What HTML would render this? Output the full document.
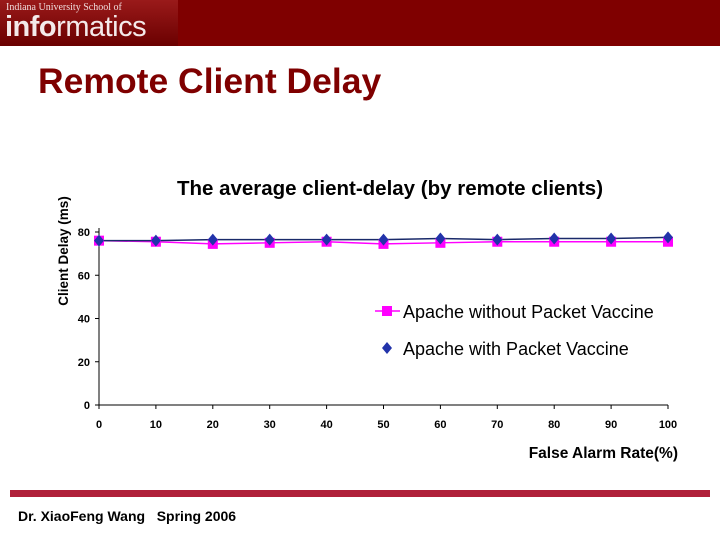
<!DOCTYPE html>
<html><head><meta charset="utf-8"><style>
body{margin:0;width:720px;height:540px;background:#fff;overflow:hidden;position:relative;font-family:"Liberation Sans",sans-serif}
</style></head><body>
<div style="position:absolute;left:0;top:0;width:720px;height:46px;background:#7f0000"></div>
<div style="position:absolute;left:0;top:0;width:178px;height:46px;background:linear-gradient(#9a1a1a,#6a0000)">
<div style="position:absolute;left:6px;top:2px;font-family:'Liberation Serif',serif;font-size:10px;color:#f0dcdc">Indiana University School of</div>
<div style="position:absolute;left:5px;top:12px;font-size:29px;color:#f4eaea;letter-spacing:-0.5px;line-height:30px"><b>info</b>rmatics</div>
</div>
<div style="position:absolute;left:38px;top:61px;font-size:35.5px;font-weight:bold;color:#7f0000">Remote Client Delay</div>
<svg width="720" height="540" style="position:absolute;left:0;top:0" id="ch">
<text x="390" y="195" text-anchor="middle" font-size="20.5" font-weight="bold" fill="#000" font-family="Liberation Sans">The average client-delay (by remote clients)</text>
<text transform="translate(68,251) rotate(-90)" text-anchor="middle" font-size="13.5" font-weight="bold" font-family="Liberation Sans">Client Delay (ms)</text>
<text x="678" y="458" text-anchor="end" font-size="15.5" font-weight="bold" font-family="Liberation Sans">False Alarm Rate(%)</text>
<g id="axes"></g><g id="marks"></g>
<g>
<line x1="375" y1="311" x2="400" y2="311" stroke="#ff00ff" stroke-width="1.5"/>
<rect x="382" y="306" width="10" height="10" fill="#ff00ff"/>
<text x="403" y="318" font-size="18" font-family="Liberation Sans">Apache without Packet Vaccine</text>
<polygon points="387,342 392,348 387,354 382,348" fill="#2233aa"/>
<text x="403" y="355" font-size="18" font-family="Liberation Sans">Apache with Packet Vaccine</text>
</g>
</svg>
<div style="position:absolute;left:10px;top:490px;width:700px;height:7px;background:#b0203a"></div>
<div style="position:absolute;left:18px;top:508px;font-size:14px;font-weight:bold">Dr. XiaoFeng Wang &nbsp; Spring 2006</div>
<script>
const categories=[0,10,20,30,40,50,60,70,80,90,100];
const withoutVaccine=[76,75.5,74.5,75,75.5,74.5,75,75.5,75.5,75.5,75.5];
const withVaccine=[76,76,76.5,76.5,76.5,76.5,77,76.5,77,77,77.5];
const yTicks=[0,20,40,60,80];
const NS="http://www.w3.org/2000/svg";
const x=v=>99+v*5.69, y=v=>405-v*2.1625;
function mk(t,a,p){const e=document.createElementNS(NS,t);for(const k in a)e.setAttribute(k,a[k]);p.appendChild(e);return e;}
const ax=document.getElementById('axes'),mg=document.getElementById('marks');
let l=mk('line',{x1:99,y1:228,x2:99,y2:405,stroke:'#000'},ax);

l=mk('line',{x1:99,y1:405,x2:668,y2:405,stroke:'#000'},ax);

yTicks.forEach(v=>{mk('line',{x1:95,y1:y(v),x2:99,y2:y(v),stroke:'#000'},ax);
const t=mk('text',{x:90,y:y(v)+4,'text-anchor':'end','font-size':11,'font-weight':'bold','font-family':'Liberation Sans'},ax);t.textContent=v;
});
categories.forEach(c=>{mk('line',{x1:x(c),y1:405,x2:x(c),y2:409,stroke:'#000'},ax);
const t=mk('text',{x:x(c),y:428,'text-anchor':'middle','font-size':11,'font-weight':'bold','font-family':'Liberation Sans'},ax);t.textContent=c;
});
let p=mk('polyline',{points:categories.map((c,i)=>x(c)+','+y(withoutVaccine[i])).join(' '),fill:'none',stroke:'#ff00ff','stroke-width':1.5},mg);

p=mk('polyline',{points:categories.map((c,i)=>x(c)+','+y(withVaccine[i])).join(' '),fill:'none',stroke:'#1a2a6a','stroke-width':1.5},mg);

categories.forEach((c,i)=>{const r=mk('rect',{x:x(c)-5,y:y(withoutVaccine[i])-5,width:10,height:10,fill:'#ff00ff'},mg);
});
categories.forEach((c,i)=>{const X=x(c),Y=y(withVaccine[i]);const d=mk('polygon',{points:`${X},${Y-6} ${X+5},${Y} ${X},${Y+6} ${X-5},${Y}`,fill:'#2233aa'},mg);
});
</script>
</body></html>
